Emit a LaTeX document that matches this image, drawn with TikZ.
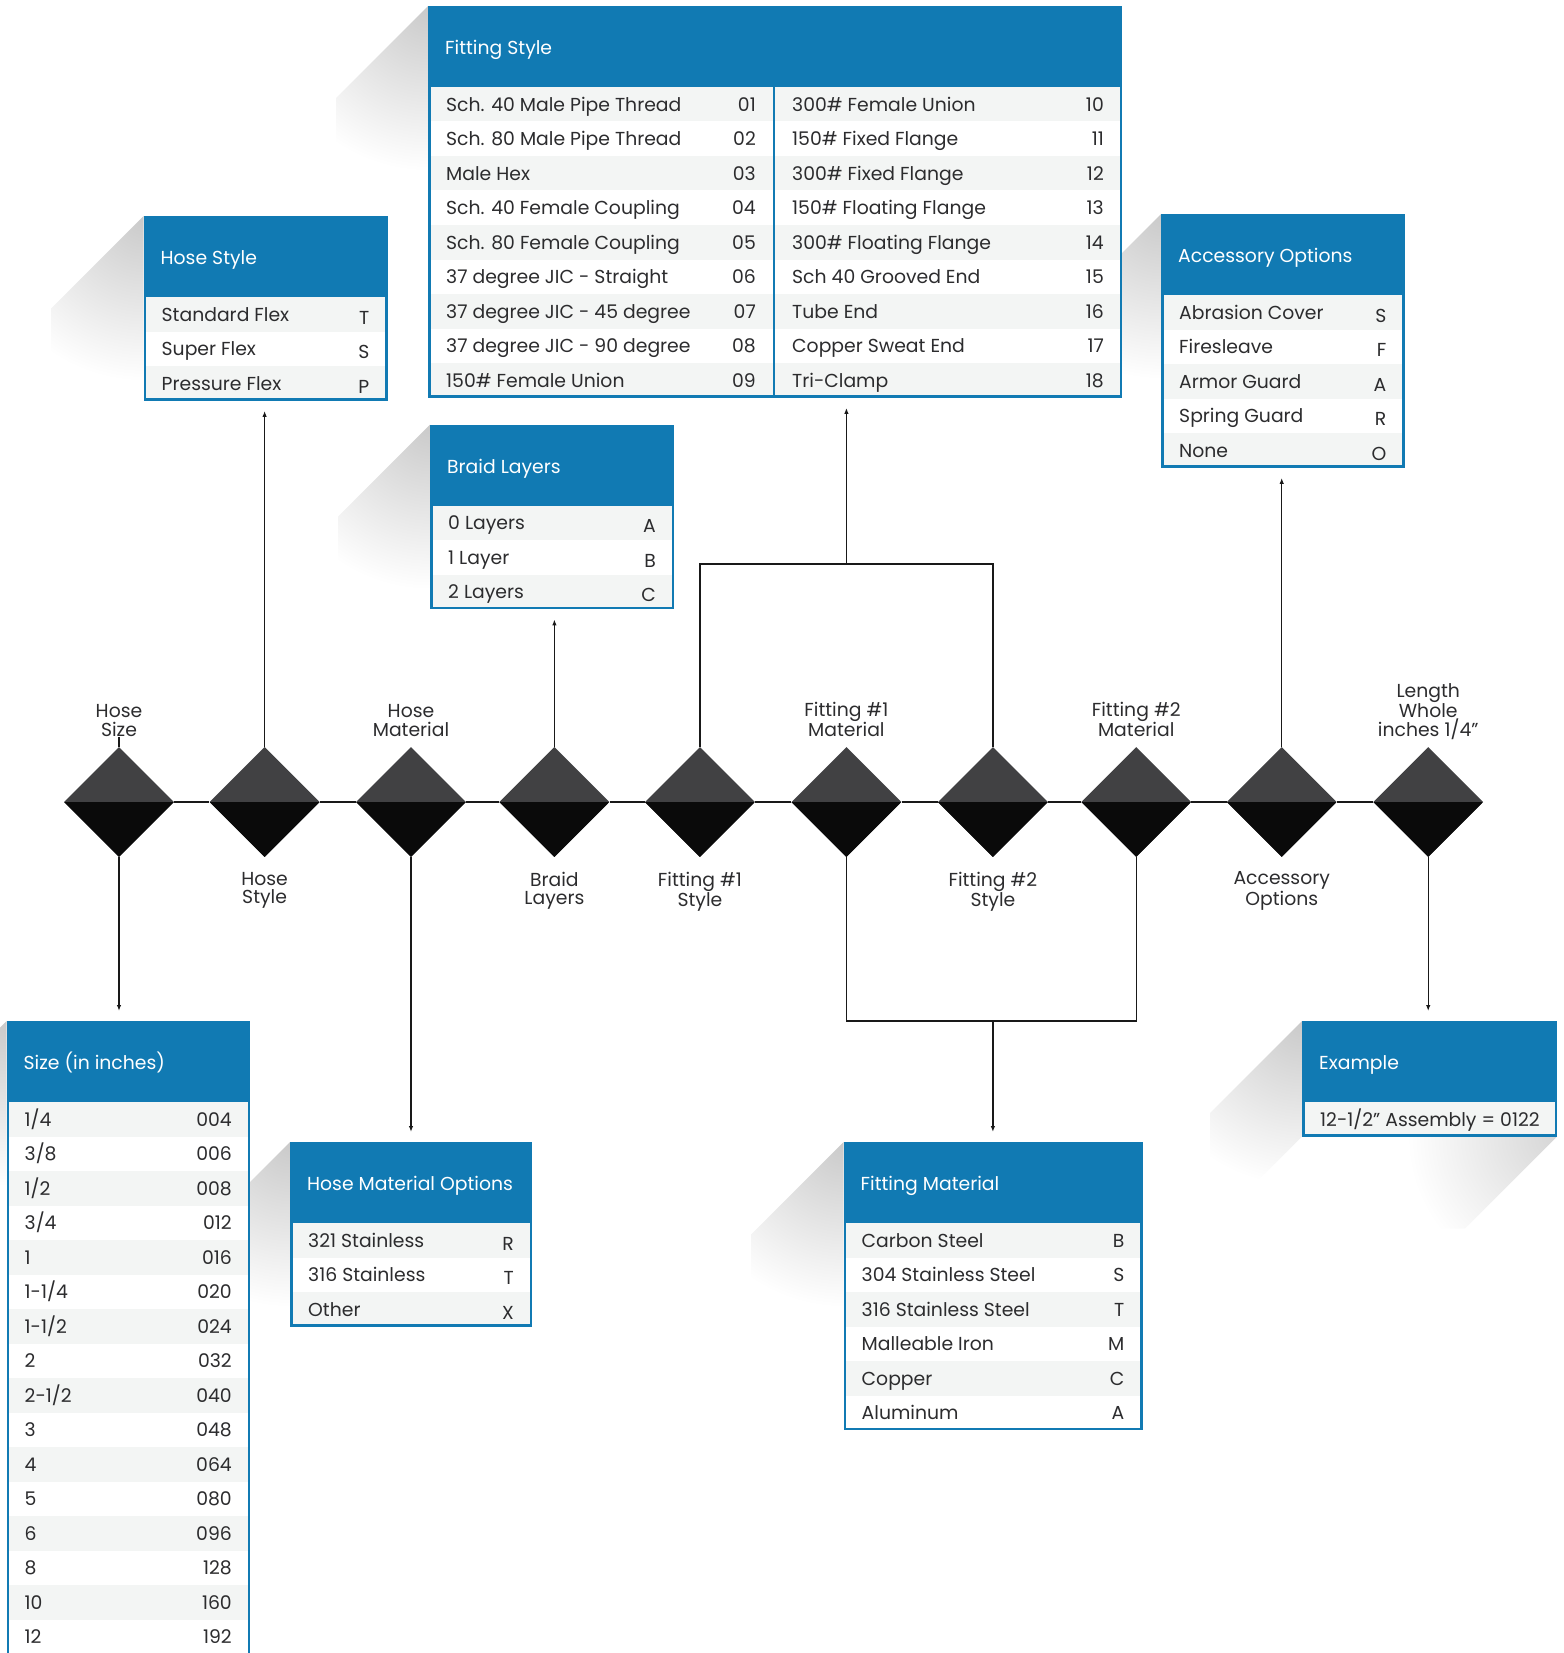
\documentclass[tikz,border=0pt]{standalone}
\usepackage{fontspec}
\setmainfont{Poppins}
\usetikzlibrary{arrows.meta, positioning, shapes.geometric}

\definecolor{hdrblue}{HTML}{117AB3}
\definecolor{rowgray}{HTML}{F3F5F4}
\definecolor{inkgray}{HTML}{2C2C2E}
\definecolor{dmdtop}{HTML}{414143}
\definecolor{dmdbot}{HTML}{0A0A0A}

\newcommand{\tabfont}{\fontsize{18.8}{18.7}\selectfont}

\tikzset{
  link/.style={line width=1.2pt, draw=black!90},
  arr/.style={link, -{Latex[length=6pt, width=4.5pt]}, shorten >=10pt},
  dmd/.style={diamond, minimum size=110pt, inner sep=0pt, fill=dmdtop,
    path picture={\fill[dmdbot] (path picture bounding box.west) rectangle (path picture bounding box.south east);}},
  dlabel/.style={align=center, inner sep=0pt, text depth=0pt, font=\tabfont, text=inkgray},
  tabnode/.style={anchor=north west, inner sep=0pt},
  hdrtext/.style={anchor=base west, inner sep=0pt, font=\tabfont, text=white},
  rowtext/.style={inner sep=0pt, font=\tabfont, text=inkgray},
  tabframe/.style={draw=hdrblue, line width=2.6pt}
}

% soft shadow off the top left corner: left, top, height
\newcommand{\tabshadow}[3]{%
  \begin{scope}
    \clip (#1,#2) -- ++(-92,92) -- ++(0,#3) -- ++(92,-92) -- cycle;
    \shade[inner color=black!21, outer color=white] (#1,#2) circle (165pt);
  \end{scope}}

% table with its header: name, left, top, width, rows, title
\newcommand{\parttable}[6]{%
  \pgfmathsetmacro{\tabh}{81+#5*34.5}
  \node[tabnode, minimum width=#4pt, minimum height=\tabh pt] (#1) at (#2,#3) {};
  \fill[white] (#2,#3) rectangle (#2+#4,#3+\tabh);
  \fill[hdrblue] (#2,#3) rectangle (#2+#4,#3+81);
  \node[hdrtext] at (#2+17,#3+48.5) {#6};
}

% rows: left, right, top of first row, shift of the codes, list
\newcommand{\rowsblock}[5]{%
  \foreach \txt/\code [count=\i] in {#5} {
    \pgfmathsetmacro{\rowtop}{#3+(\i-1)*34.5}
    \ifodd\i \fill[rowgray] (#1,\rowtop) rectangle (#2,\rowtop+34.5); \fi
    \node[rowtext, anchor=base west] at (#1+18,\rowtop+24.2) {\txt};
    \node[rowtext, anchor=base east] at (#2-18,\rowtop+24.2+#4) {\code};
  }}

\newcommand{\closetable}[1]{%
  \draw[tabframe] ([shift={(1.3pt,-1.3pt)}]#1.north west) rectangle ([shift={(-1.3pt,1.3pt)}]#1.south east);}

\begin{document}
\begin{tikzpicture}[x=1pt, y=-1pt]
\useasboundingbox (0,0) rectangle (1563,1653);

% shadows
\foreach \l/\t/\h in {1161/214/253.5, 428/6/391.5, 143.5/216/184.5, 430/424.5/184.5,
  6.5/1021/640, 290/1142/184.5, 843.5/1142/288, 1302/1021/115.5}
  \tabshadow{\l}{\t}{\h};
\begin{scope}
  \clip (1302,1136.5) -- ++(-92,92) -- (1465,1228.5) -- (1557,1136.5) -- cycle;
  \shade[inner color=black!16, outer color=white] (1557,1136.5) circle (150pt);
\end{scope}

% tables
\parttable{acctab}{1161}{214}{243.5}{5}{Accessory Options}
\rowsblock{1161}{1404.5}{295}{3}{Abrasion Cover/S, Firesleave/F, Armor Guard/A, Spring Guard/R, None/O}
\closetable{acctab}

\parttable{fstab}{428}{6}{694}{9}{Fitting Style}
\rowsblock{428}{774}{87}{0}{Sch. 40 Male Pipe Thread/01, Sch. 80 Male Pipe Thread/02, Male Hex/03,
  Sch. 40 Female Coupling/04, Sch. 80 Female Coupling/05, 37 degree JIC - Straight/06,
  37 degree JIC - 45 degree/07, 37 degree JIC - 90 degree/08, 150\# Female Union/09}
\rowsblock{774}{1122}{87}{0}{300\# Female Union/10, 150\# Fixed Flange/11, 300\# Fixed Flange/12,
  150\# Floating Flange/13, 300\# Floating Flange/14, Sch 40 Grooved End/15, Tube End/16,
  Copper Sweat End/17, Tri-Clamp/18}
\draw[tabframe] (774,87) -- (774,397.5);
\closetable{fstab}

\parttable{hstyletab}{143.5}{216}{244}{3}{Hose Style}
\rowsblock{143.5}{387.5}{297}{3}{Standard Flex/T, Super Flex/S, Pressure Flex/P}
\closetable{hstyletab}

\parttable{braidtab}{430}{424.5}{244}{3}{Braid Layers}
\rowsblock{430}{674}{505.5}{3}{0 Layers/A, 1 Layer/B, 2 Layers/C}
\closetable{braidtab}

\parttable{sizetab}{6.5}{1021}{243.5}{16.2}{Size (in inches)}
\rowsblock{6.5}{250}{1102}{0}{{1/4}/004, {3/8}/006, {1/2}/008, {3/4}/012, 1/016, {1-1/4}/020,
  {1-1/2}/024, 2/032, {2-1/2}/040, 3/048, 4/064, 5/080, 6/096, 8/128, 10/160, 12/192}
\closetable{sizetab}

\parttable{hmattab}{290}{1142}{242}{3}{Hose Material Options}
\rowsblock{290}{532}{1223}{3}{321 Stainless/R, 316 Stainless/T, Other/X}
\closetable{hmattab}

\parttable{fmtab}{843.5}{1142}{299}{6}{Fitting Material}
\rowsblock{843.5}{1142.5}{1223}{0}{Carbon Steel/B, 304 Stainless Steel/S, 316 Stainless Steel/T,
  Malleable Iron/M, Copper/C, Aluminum/A}
\closetable{fmtab}

\parttable{extab}{1302}{1021}{255}{1}{Example}
\rowsblock{1302}{1557}{1102}{0}{{12-1/2” Assembly = 0122}/{}}
\closetable{extab}

% diamonds
\foreach \n/\x in {dsize/119, dhstyle/264.6, dhmat/411, dbraid/554.4, dfit1s/699.9,
  dfit1m/846.4, dfit2s/992.9, dfit2m/1136.2, dacc/1281.7, dlen/1428.2}
  \node[dmd] (\n) at (\x,802) {};

\foreach \a/\b in {dsize/dhstyle, dhstyle/dhmat, dhmat/dbraid, dbraid/dfit1s, dfit1s/dfit1m,
  dfit1m/dfit2s, dfit2s/dfit2m, dfit2m/dacc, dacc/dlen}
  \draw[link] (\a.east) -- (\b.west);

% labels
\node[dlabel, above=10pt of dsize] (lsize) {Hose\\Size};
\node[dlabel, above=10pt of dhmat] (lhmat) {Hose\\Material};
\node[dlabel, above=10pt of dfit1m] (lfit1m) {Fitting \#1\\Material};
\node[dlabel, above=10pt of dfit2m] (lfit2m) {Fitting \#2\\Material};
\node[dlabel, above=10pt of dlen] (llen) {Length\\Whole\\inches 1/4”};
\node[dlabel, below=14.5pt of dhstyle] (lhstyle) {Hose\\Style};
\node[dlabel, below=14.5pt of dbraid] (lbraid) {Braid\\Layers};
\node[dlabel, below=14.5pt of dfit1s] (lfit1s) {Fitting \#1\\Style};
\node[dlabel, below=14.5pt of dfit2s] (lfit2s) {Fitting \#2\\Style};
\node[dlabel, below=14.5pt of dacc] (lacc) {Accessory\\Options};

% connectors
\draw[link] (dsize.north) -- (lsize.south);
\draw[arr] (dsize.south) -- (sizetab.north -| dsize);
\draw[arr] (dhstyle.north) -- (hstyletab.south -| dhstyle);
\draw[arr] (dhmat.south) -- (hmattab.north -| dhmat);
\draw[arr] (dbraid.north) -- (braidtab.south -| dbraid);
\coordinate (fsjoin) at (846.4,564);
\draw[link] (dfit1s.north) |- (fsjoin) -| (dfit2s.north);
\draw[arr] (fsjoin) -- (fstab.south -| fsjoin);
\coordinate (fmjoin) at (992.9,1021);
\draw[link] (dfit1m.south) |- (fmjoin) -| (dfit2m.south);
\draw[arr] (fmjoin) -- (fmtab.north -| fmjoin);
\draw[arr] (dacc.north) -- (acctab.south -| dacc);
\draw[arr] (dlen.south) -- (extab.north -| dlen);
\end{tikzpicture}
\end{document}
